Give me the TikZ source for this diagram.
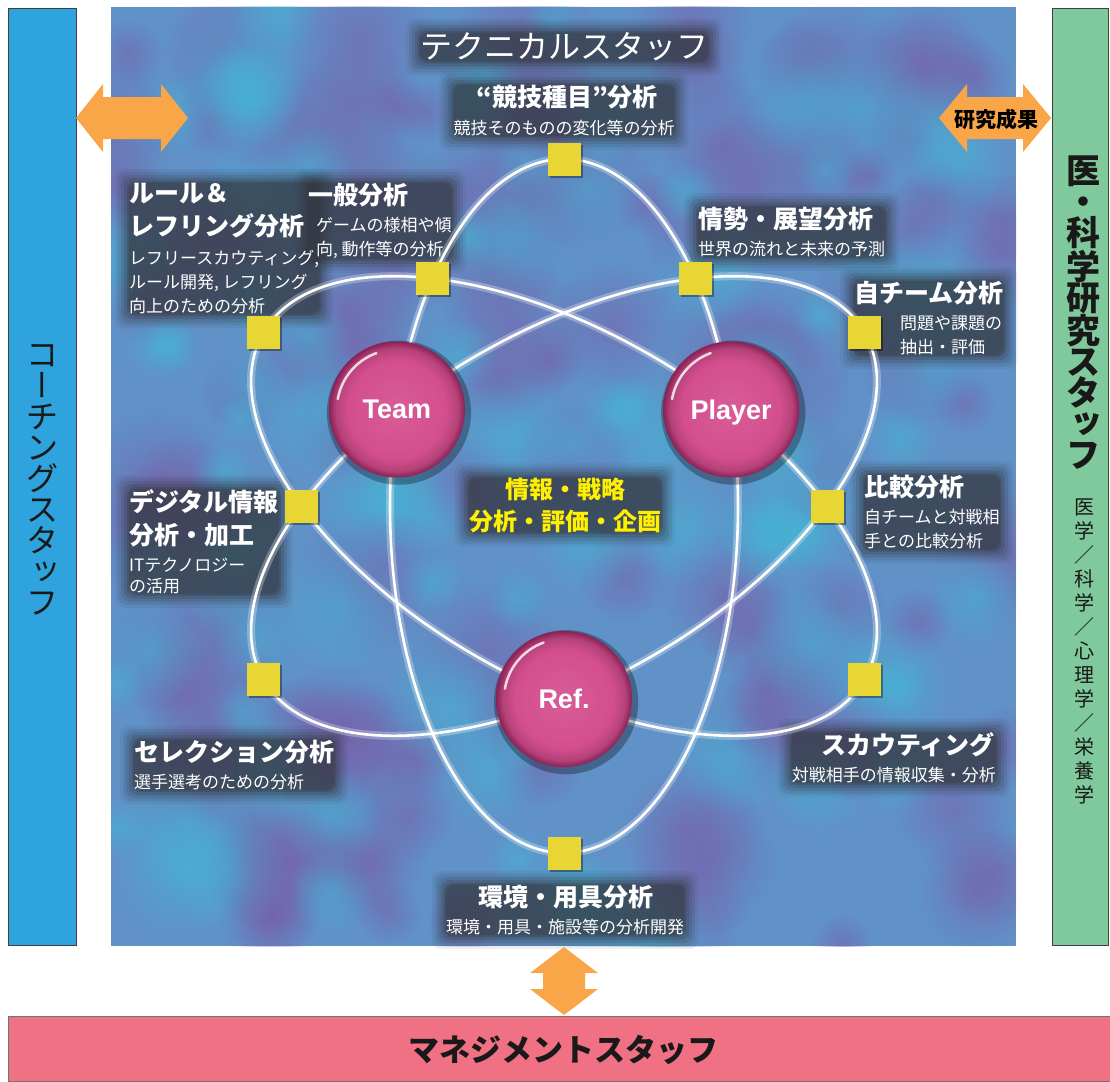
\documentclass[tikz,border=0pt]{standalone}
\usepackage{fontspec}
\newfontfamily\jp{Noto Sans CJK JP}
\newfontfamily\jpvert[RawFeature=+vert]{Noto Sans CJK JP}
\newfontfamily\hubfont{Liberation Sans}
\usetikzlibrary{fit,fadings,shadows}

\definecolor{coachblue}{RGB}{46,163,221}
\definecolor{sciencegreen}{RGB}{128,201,156}
\definecolor{mgmtpink}{RGB}{240,112,132}
\definecolor{linkorange}{RGB}{248,166,72}
\definecolor{skybase}{RGB}{96,146,200}
\definecolor{skypurple}{RGB}{122,92,168}
\definecolor{skycyan}{RGB}{66,186,216}
\definecolor{spotyellow}{RGB}{232,214,52}
\definecolor{ballpink}{RGB}{212,78,142}
\definecolor{ballrim}{RGB}{140,32,84}
\definecolor{plantext}{RGB}{255,240,0}
\definecolor{halogray}{RGB}{52,54,62}

% magenta hub with a dark rim
\pgfdeclareradialshading{hubshade}{\pgfpoint{0bp}{0bp}}{%
  color(0bp)=(ballpink!92!white); color(18bp)=(ballpink);
  color(22.5bp)=(ballpink!85!black); color(25bp)=(ballrim); color(50bp)=(ballrim)}

\tikzfading[name=softblob, inner color=transparent!30, outer color=transparent!100]

% soft dark patch behind a group of labels
\newcommand\halo[1]{%
  \foreach \pad/\op in {14/.08,11/.12,8/.16,5/.22,2/.3,0/.3}
    \node[fill=halogray, fill opacity=\op, rounded corners=9pt, inner sep=\pad pt, fit=#1] {};}

\pgfdeclarelayer{backdrop}
\pgfsetlayers{backdrop,main}

\tikzset{
  orbit/.style={white, line width=2.6pt},
  orbitglow/.style={white, opacity=.28, line width=8pt},
  spot/.style={rectangle, fill=spotyellow, minimum size=33pt, inner sep=0pt,
    general shadow={fill=black, opacity=.35, shadow xshift=2pt, shadow yshift=-2pt}},
  hub/.style={circle, minimum size=136pt, inner sep=0pt, shading=hubshade, text=white,
    font=\hubfont\bfseries\fontsize{27}{27}\selectfont, text depth=0pt,
    general shadow={fill=black, opacity=.3, shadow scale=1.06, shadow xshift=2pt, shadow yshift=-3pt}},
  head/.style={text=white, font=\jp\bfseries\fontsize{25}{33}\selectfont, inner sep=0pt, align=left},
  note/.style={text=white, font=\jp\fontsize{17}{24}\selectfont, inner sep=0pt, align=left},
  staffbar/.style={draw=black!75, line width=.8pt},
  vtext/.style={align=center, inner sep=0pt, text=black!90},
  link/.style={fill=linkorange}
}

\begin{document}
\begin{tikzpicture}[x=1pt,y=1pt]
  \useasboundingbox (0,0) rectangle (1110,-1081);
  \coordinate (atom) at (564,-506);

  % mottled backdrop of the technical area
  \begin{pgfonlayer}{backdrop}
    \fill[skybase] (111,-7) rectangle (1016,-946);
    \begin{scope}
      \clip (111,-7) rectangle (1016,-946);
      \pgfmathsetseed{7}
      \foreach \i in {1,...,110} {
        \pgfmathsetmacro\bx{111+905*rnd}
        \pgfmathsetmacro\by{-7-939*rnd}
        \pgfmathsetmacro\br{30+50*rnd}
        \fill[skypurple, fill opacity=.75, path fading=softblob] (\bx,\by) circle (\br);
      }
      \foreach \i in {1,...,90} {
        \pgfmathsetmacro\bx{111+905*rnd}
        \pgfmathsetmacro\by{-7-939*rnd}
        \pgfmathsetmacro\br{25+45*rnd}
        \fill[skycyan, fill opacity=.7, path fading=softblob] (\bx,\by) circle (\br);
      }
    \end{scope}
  \end{pgfonlayer}

  % staff bars
  \draw[staffbar, fill=coachblue] (8,-8) rectangle (76,-945);
  \draw[staffbar, fill=sciencegreen] (1052,-8) rectangle (1108,-945);
  \draw[draw=black!55, line width=.8pt, fill=mgmtpink] (8,-1016) rectangle (1110,-1081);

  \node[vtext, font=\jp\fontsize{32}{31}\selectfont] (coachtext) at (42,-480)
    {コ\\{\jpvert ー}\\チ\\ン\\グ\\ス\\タ\\{\jpvert ッ}\\フ};
  \node[vtext, font=\jp\bfseries\fontsize{34}{31}\selectfont] (scitext) at (1083,-313)
    {医\\・\\科\\学\\研\\究\\ス\\タ\\{\jpvert ッ}\\フ};
  \node[vtext, font=\jp\fontsize{20}{24}\selectfont] (scisub) at (1084,-651)
    {医\\学\\／\\科\\学\\／\\心\\理\\学\\／\\栄\\養\\学};
  \node[text=black!90, font=\jp\bfseries\fontsize{31}{31}\selectfont] (mgmttext) at (563,-1050) {マネジメントスタッフ};

  % two-way links
  \fill[link] (76,-118) -- (103,-84) -- (103,-97) -- (161,-97) -- (161,-84) -- (188,-118)
    -- (161,-152) -- (161,-139) -- (103,-139) -- (103,-152) -- cycle;
  \fill[link] (939,-118) -- (967,-84) -- (967,-97) -- (1023,-97) -- (1023,-84) -- (1051,-118)
    -- (1023,-152) -- (1023,-139) -- (967,-139) -- (967,-152) -- cycle;
  \fill[link] (564,-947) -- (598,-973) -- (585,-973) -- (585,-989) -- (598,-989) -- (564,-1015)
    -- (530,-989) -- (543,-989) -- (543,-973) -- (530,-973) -- cycle;
  \node[font=\jp\bfseries\fontsize{21}{21}\selectfont] (result) at (996,-119) {研究成果};

  % orbits
  \foreach \tilt in {90,30,-30} {
    \draw[orbitglow, rotate around={\tilt:(atom)}] (atom) ellipse [x radius=347, y radius=174];
    \draw[orbit, rotate around={\tilt:(atom)}] (atom) ellipse [x radius=347, y radius=174];
  }

  % analysis spots on the orbits
  \foreach \spot/\ang/\dist in {sport/90/347, general/120/263, trend/60/263, rule/150/347,
      self/30/347, digital/180/263, compare/0/263, select/210/347, scout/-30/347, gear/270/347}
    \node[spot] (\spot) at ([shift={(\ang:\dist)}]atom) {};

  % hubs
  \node[hub] (team) at ([shift={(150:193)}]atom) {Team};
  \node[hub] (player) at ([shift={(30:193)}]atom) {Player};
  \node[hub] (referee) at ([shift={(270:193)}]atom) {Ref.};
  \foreach \hub in {team,player,referee}
    \draw[white, opacity=.8, line width=2.5pt, line cap=round]
      ([shift={(110:60)}]\hub.center) arc (110:170:60);

  % labels
  \node[text=white, font=\jp\fontsize{32}{32}\selectfont, inner sep=0pt] (techtitle) at (564,-47) {テクニカルスタッフ};
  \node[head] (sporthead) at (567,-97) {“競技種目”分析};
  \node[note] (sportnote) at (564,-128) {競技そのものの変化等の分析};
  \node[head, anchor=west] (rulehead) at (129,-210.5) {ルール＆\\レフリング分析};
  \node[note, anchor=west] (rulenote) at (129,-282) {レフリースカウティング,\\ルール開発, レフリング\\向上のための分析};
  \node[head, anchor=west] (generalhead) at (308,-195) {一般分析};
  \node[note, anchor=west] (generalnote) at (316,-238) {ゲームの様相や傾\\向, 動作等の分析};
  \node[head, anchor=west] (trendhead) at (698,-219) {情勢・展望分析};
  \node[note, anchor=west] (trendnote) at (698,-249) {世界の流れと未来の予測};
  \node[head, anchor=west] (selfhead) at (854,-293) {自チーム分析};
  \node[note, anchor=west] (selfnote) at (900,-335.5) {問題や課題の\\抽出・評価};
  \node[head, anchor=west] (digitalhead) at (129,-518) {デジタル情報\\分析・加工};
  \node[note, anchor=west, font=\jp\fontsize{17}{21}\selectfont] (digitalnote) at (129,-575.5) {ITテクノロジー\\の活用};
  \node[head, anchor=west] (comparehead) at (864,-487) {比較分析};
  \node[note, anchor=west] (comparenote) at (864,-529.5) {自チームと対戦相\\手との比較分析};
  \node[head, text=plantext, align=center, font=\jp\bfseries\fontsize{24}{32}\selectfont] (planhead) at (565,-505) {情報・戦略\\分析・評価・企画};
  \node[head, anchor=west] (selecthead) at (134,-752) {セレクション分析};
  \node[note, anchor=west] (selectnote) at (134,-782) {選手選考のための分析};
  \node[head, anchor=east] (scouthead) at (995,-745) {スカウティング};
  \node[note, anchor=east] (scoutnote) at (996,-775) {対戦相手の情報収集・分析};
  \node[head] (gearhead) at (566,-897) {環境・用具分析};
  \node[note] (gearnote) at (565,-927) {環境・用具・施設等の分析開発};

  \begin{pgfonlayer}{backdrop}
    \halo{(techtitle)}
    \halo{(sporthead)(sportnote)}
    \halo{(rulehead)(rulenote)}
    \halo{(generalhead)(generalnote)}
    \halo{(trendhead)(trendnote)}
    \halo{(selfhead)(selfnote)}
    \halo{(digitalhead)(digitalnote)}
    \halo{(comparehead)(comparenote)}
    \halo{(planhead)}
    \halo{(selecthead)(selectnote)}
    \halo{(scouthead)(scoutnote)}
    \halo{(gearhead)(gearnote)}
  \end{pgfonlayer}
\end{tikzpicture}
\end{document}
